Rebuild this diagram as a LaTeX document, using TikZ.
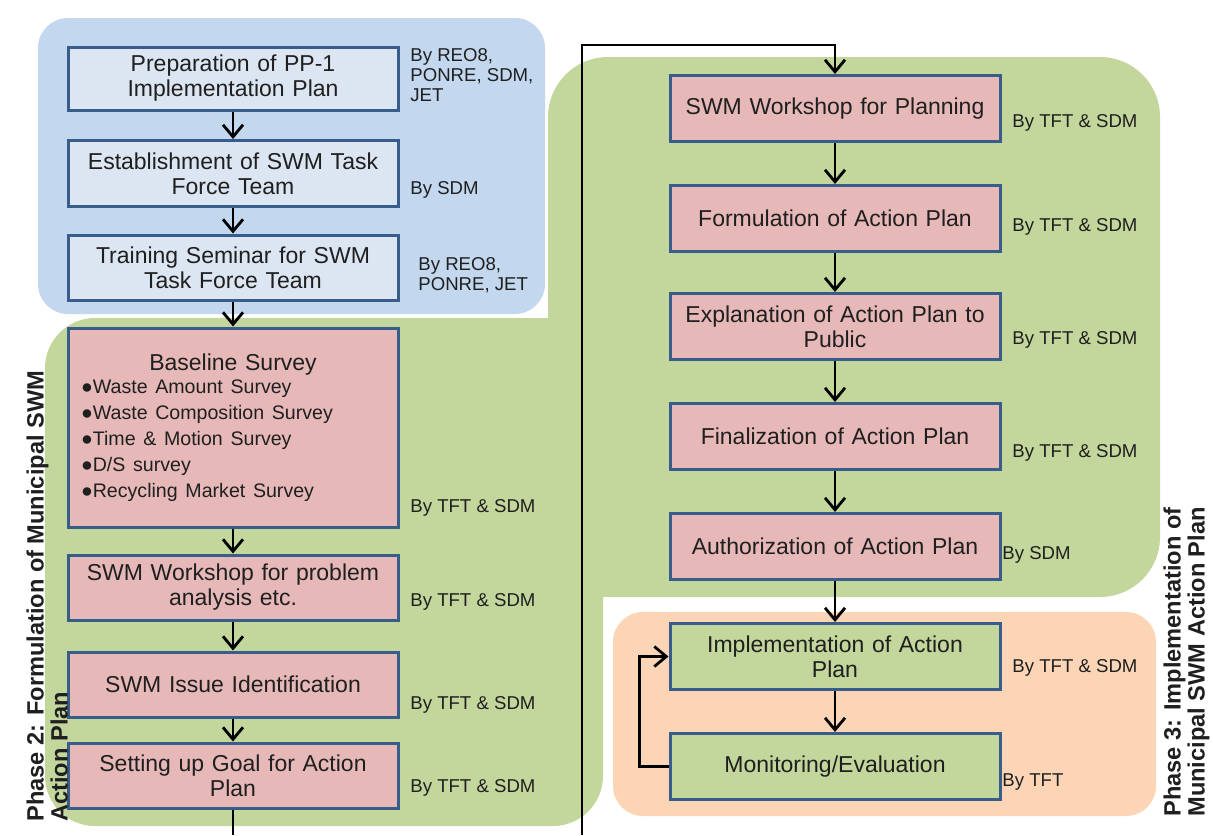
\documentclass[tikz,border=0pt]{standalone}
\usepackage{fontspec}
\setmainfont{Liberation Sans}
\usetikzlibrary{arrows.meta}

\definecolor{bluezone}{HTML}{C3D7EF}
\definecolor{bluebox}{HTML}{DCE6F2}
\definecolor{greenzone}{HTML}{C3D69B}
\definecolor{orangezone}{HTML}{FBD5B5}
\definecolor{pinkbox}{HTML}{E6B9B8}
\definecolor{greenbox}{HTML}{C3D69B}
\definecolor{edgeblue}{HTML}{385D8A}
\definecolor{ink}{HTML}{1F1F1F}

\begin{document}
\begin{tikzpicture}[x=0.5pt,y=-0.5pt,
  stepbox/.style={draw=edgeblue, line width=1.5pt, minimum width=165pt,
    minimum height=33pt, inner sep=2pt, align=center, text width=160pt,
    font=\fontsize{11.5}{12.5}\selectfont, text=ink},
  bluestep/.style={stepbox, fill=bluebox},
  pinkstep/.style={stepbox, fill=pinkbox},
  greenstep/.style={stepbox, fill=greenbox},
  bylabel/.style={anchor=west, align=left, inner sep=0pt, text=ink,
    font=\fontsize{9.3}{10}\selectfont},
  phaselabel/.style={rotate=90, anchor=north west, align=left, inner sep=0pt,
    text=ink, font=\bfseries\fontsize{11.8}{10.5}\selectfont},
  flow/.style={line width=1.4pt, -{Straight Barb[length=6pt,width=10pt]}},
  plainline/.style={line width=1.4pt}]
\useasboundingbox (0,0) rectangle (1213,835);

% phase backgrounds
\fill[greenzone, rounded corners=25pt] (45,318) rectangle (603,826);
\fill[greenzone, rounded corners=30pt] (548,57) rectangle (1160,597);
\fill[bluezone, rounded corners=15pt] (38,18) rectangle (545,314);
\fill[orangezone, rounded corners=15pt] (613,612) rectangle (1156,816);

% phase 1 steps
\node[bluestep, minimum height=31.5pt] (prep) at (233,78.5) {Preparation of PP-1\\Implementation Plan};
\node[bluestep] (est) at (233,173.5) {Establishment of SWM Task\\Force Team};
\node[bluestep, minimum height=32.5pt] (train) at (233,267.5) {Training Seminar for SWM\\Task Force Team};

% phase 2 steps
\node[pinkstep, minimum height=99.5pt] (base) at (233,427.5) {%
  {\fontsize{11.5}{13}\selectfont Baseline Survey}\\[1pt]
  \parbox{152pt}{\fontsize{9.8}{13}\selectfont
    ●Waste Amount Survey\\
    ●Waste Composition Survey\\
    ●Time \& Motion Survey\\
    ●D/S survey\\
    ●Recycling Market Survey}};
\node[pinkstep, minimum height=32.5pt] (work) at (233,587.5) {SWM Workshop for problem\\analysis etc.};
\node[pinkstep, minimum height=32.5pt] (issue) at (233,684.5) {SWM Issue Identification};
\node[pinkstep, minimum height=32.5pt] (goal) at (233,775.5) {Setting up Goal for Action\\Plan};

% planning steps
\node[pinkstep] (plan) at (835,108.5) {SWM Workshop for Planning};
\node[pinkstep] (form) at (835,218.5) {Formulation of Action Plan};
\node[pinkstep] (expl) at (835,326.5) {Explanation of Action Plan to\\Public};
\node[pinkstep] (final) at (835,436.5) {Finalization of Action Plan};
\node[pinkstep] (auth) at (835,546.5) {Authorization of Action Plan};

% phase 3 steps
\node[greenstep] (impl) at (835,656.5) {Implementation of Action\\Plan};
\node[greenstep] (mon) at (835,766.5) {Monitoring/Evaluation};

% responsible parties
\node[bylabel] (lprep) at (410,75) {By REO8,\\PONRE, SDM,\\JET};
\node[bylabel] (lest) at (410,190) {By SDM};
\node[bylabel] (ltrain) at (418,275) {By REO8,\\PONRE, JET};
\node[bylabel] (lbase) at (410,508) {By TFT \& SDM};
\node[bylabel] (lwork) at (410,602) {By TFT \& SDM};
\node[bylabel] (lissue) at (410,705) {By TFT \& SDM};
\node[bylabel] (lgoal) at (410,788) {By TFT \& SDM};
\node[bylabel] (lplan) at (1012,123) {By TFT \& SDM};
\node[bylabel] (lform) at (1012,227) {By TFT \& SDM};
\node[bylabel] (lexpl) at (1012,340) {By TFT \& SDM};
\node[bylabel] (lfinal) at (1012,453) {By TFT \& SDM};
\node[bylabel] (lauth) at (1002,555) {By SDM};
\node[bylabel] (limpl) at (1012,668) {By TFT \& SDM};
\node[bylabel] (lmon) at (1002,782) {By TFT};

% flow
\draw[flow] (prep) -- (est);
\draw[flow] (est) -- (train);
\draw[flow] (train) -- (base);
\draw[flow] (base) -- (work);
\draw[flow] (work) -- (issue);
\draw[flow] (issue) -- (goal);
\draw[flow] (plan) -- (form);
\draw[flow] (form) -- (expl);
\draw[flow] (expl) -- (final);
\draw[flow] (final) -- (auth);
\draw[flow] (auth) -- (impl);
\draw[flow] (impl) -- (mon);
\draw[flow] (mon.west) -- ++(-29,0) |- (impl.west);

% link between the two columns
\coordinate (leftexit) at (233,835);
\coordinate (rightentry) at (582,835);
\coordinate (topbend) at (835,45);
\draw[plainline] (goal.south) -- (leftexit);
\draw[flow] (rightentry) |- (topbend) -- (plan.north);

% phase titles
\node[phaselabel] (ph2) at (26,822) {Phase 2: Formulation of Municipal SWM\\Action Plan};
\node[phaselabel] (ph3) at (1163,817) {Phase 3: Implementation of\\Municipal SWM Action Plan};
\end{tikzpicture}
\end{document}
